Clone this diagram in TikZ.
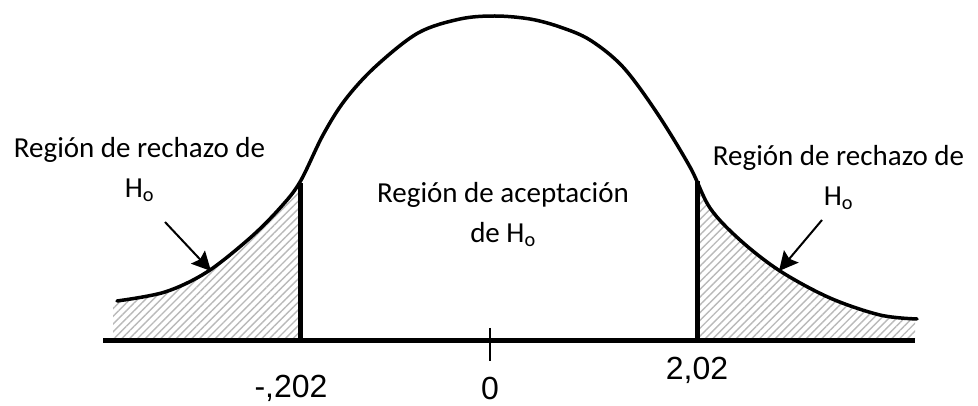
\documentclass[tikz,border=0pt]{standalone}
\usepackage{fontspec}
\setmainfont{Carlito}
\newfontfamily\arialfont{Liberation Sans}
\usetikzlibrary{arrows.meta,patterns.meta}
\newcommand{\Ho}{H\textsubscript{o}}
\tikzset{
  curva/.style={line width=3.5pt,line cap=round},
  eje/.style={line width=5pt},
  limite/.style={line width=5pt},
  marca/.style={line width=2pt},
  flecha/.style={line width=2pt,-{Stealth[length=19pt,width=19pt,inset=3pt]}},
  rayado/.style={pattern={Lines[angle=45,distance=5.5pt,line width=1.4pt]},pattern color=gray!55},
  region/.style={align=center,inner sep=0pt,anchor=base,font=\fontsize{29}{40}\selectfont},
  valor/.style={inner sep=0pt,font=\arialfont\fontsize{32}{38}\selectfont}
}

\begin{document}
\begin{tikzpicture}[x=1pt,y=-1pt,line join=round]
\useasboundingbox (0,0) rectangle (978,406);
\def\ejey{340}
\def\campana{-- plot[smooth,tension=0.55] coordinates {(117,301) (165,292) (207,272) (250,238) (280,208) (300,182) (323,135) (345,100) (375,67) (418,33) (460,19) (495,16) (530,19) (560,27) (590,40) (623,67) (657,113) (690,167) (710,208) (740,240) (780,271) (830,298) (880,315) (917,319)}}

% zonas de rechazo
\begin{scope}
\clip (113,\ejey-2) rectangle (298,100);
\fill[rayado] (113,\ejey) -- (113,304) \campana -- (917,\ejey) -- cycle;
\end{scope}
\begin{scope}
\clip (699,\ejey-2) rectangle (915,100);
\fill[rayado] (113,\ejey) -- (113,304) \campana -- (917,\ejey) -- cycle;
\end{scope}

\draw[curva] (117,301) \campana;

\coordinate (E0) at (103,\ejey);
\coordinate (E1) at (915,\ejey);
\coordinate (L0) at (300,\ejey);
\coordinate (L1) at (300,183);
\coordinate (R0) at (697,\ejey);
\coordinate (R1) at (697,181);
\coordinate (T0) at (490,328);
\coordinate (T1) at (490,361);

\draw[eje] (E0) -- (E1);
\draw[limite] (L0) -- (L1);
\draw[limite] (R0) -- (R1);
\draw[marca] (T0) -- (T1);

\node[valor] (vizq) at (291,388) {-,202};
\node[valor] (vcero) at (490,388) {0};
\node[valor] (vder) at (697,370) {2,02};

% la base es la de la ultima linea
\node[region] (rizq) at (139.5,198) {Región de rechazo de\\\Ho};
\node[region] (rder) at (838.5,206) {Región de rechazo de\\\Ho};
\node[region] (acep) at (503,243) {Región de aceptación\\de \Ho};

\coordinate (fizq0) at (165,222);
\coordinate (fizq1) at (211,271);
\coordinate (fder0) at (822,220);
\coordinate (fder1) at (779,271);
\draw[flecha] (fizq0) -- (fizq1);
\draw[flecha] (fder0) -- (fder1);

\end{tikzpicture}
\end{document}
